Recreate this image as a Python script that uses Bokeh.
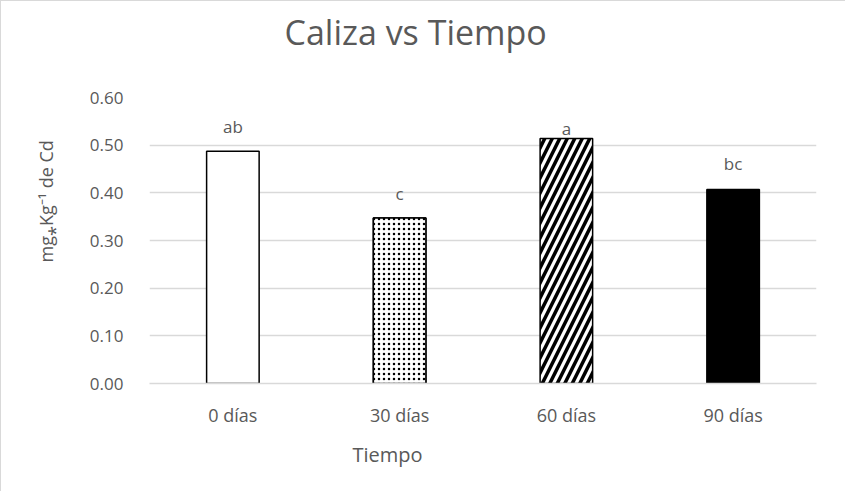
from bokeh.plotting import figure
from bokeh.models import ColumnDataSource, Title, FixedTicker, LabelSet, CustomJSTickFormatter
from bokeh.embed import file_html
from bokeh.resources import INLINE
from bokeh.core.properties import value

categories = ["0 días", "30 días", "60 días", "90 días"]
values = [0.487, 0.347, 0.514, 0.407]
letters = ["ab", "c", "a", "bc"]
letter_y = [0.539, 0.399, 0.535, 0.462]
fills = ["white", "white", "white", "black"]
patterns = ["blank", "blank", "right_diagonal_line", "blank"]
y_ticks = [0.0, 0.1, 0.2, 0.3, 0.4, 0.5, 0.6]

src = ColumnDataSource(dict(cat=categories, val=values, fill=fills, pat=patterns,
                            lab=letters, ly=letter_y))

FONT = "Open Sans"
GREY = "#595959"

p = figure(x_range=categories, y_range=(0, 0.6), width=845, height=491,
           output_backend="svg", toolbar_location=None,
           min_border_left=148, min_border_right=30, min_border_top=94, min_border_bottom=109)
p.styles = {"border-left": "1px solid #d9d9d9", "border-top": "1px solid #d9d9d9"}
p.outline_line_color = None
p.background_fill_color = "white"
p.border_fill_color = "white"

p.vbar(x="cat", top="val", width=0.315, source=src, fill_color="fill",
       line_color="black", line_width=1.5, hatch_pattern="pat",
       hatch_color="black", hatch_scale=15, hatch_weight=3.5)

dot_src = ColumnDataSource(dict(cat=[categories[1]], val=[values[1]]))
p.vbar(x="cat", top="val", width=0.315, source=dot_src, fill_color="white",
       line_color="black", line_width=1.5, hatch_pattern="dot",
       hatch_color="black", hatch_scale=5, hatch_weight=0.9)

labels = LabelSet(x="cat", y="ly", text="lab", source=src, text_align="center",
                  text_baseline="middle", text_font=value(FONT), text_font_size="17px",
                  text_color=GREY)
p.add_layout(labels)

p.yaxis.ticker = FixedTicker(ticks=y_ticks)
p.yaxis.formatter = CustomJSTickFormatter(code="return tick.toFixed(2);")
p.ygrid.grid_line_color = "#d9d9d9"
p.ygrid.grid_line_width = 1.3
p.xgrid.grid_line_color = None

p.yaxis.axis_line_color = None
p.yaxis.major_tick_line_color = None
p.yaxis.minor_tick_line_color = None
p.yaxis.major_label_text_font = FONT
p.yaxis.major_label_text_font_size = "17px"
p.yaxis.major_label_text_color = GREY
p.yaxis.major_label_standoff = 20

p.xaxis.axis_line_color = "#d9d9d9"
p.xaxis.axis_line_width = 1.3
p.xaxis.major_tick_line_color = None
p.xaxis.minor_tick_line_color = None
p.xaxis.major_label_text_font = FONT
p.xaxis.major_label_text_font_size = "18px"
p.xaxis.major_label_text_color = GREY
p.xaxis.major_label_standoff = 13

# chart title (centred on the whole chart, not the plot frame)
spacer = Title(text=" ", text_font_size="23px")
p.add_layout(spacer, "above")
title = Title(text="Caliza vs Tiempo", align="left", offset=135, text_font=FONT,
              text_font_size="34px", text_font_style="normal", text_color=GREY)
p.add_layout(title, "above")

# x axis title
xtitle = Title(text="Tiempo", align="left", offset=203, text_font=FONT, standoff=18,
               text_font_size="20px", text_font_style="normal", text_color=GREY)
p.add_layout(xtitle, "below")

# y axis title
ytitle = Title(text="mg⁎Kg⁻¹ de Cd", align="left", offset=121, text_font=FONT, standoff=58,
               text_font_size="18px", text_font_style="normal", text_color=GREY)
p.add_layout(ytitle, "left")

open("out.html", "w").write(file_html(p, INLINE))
